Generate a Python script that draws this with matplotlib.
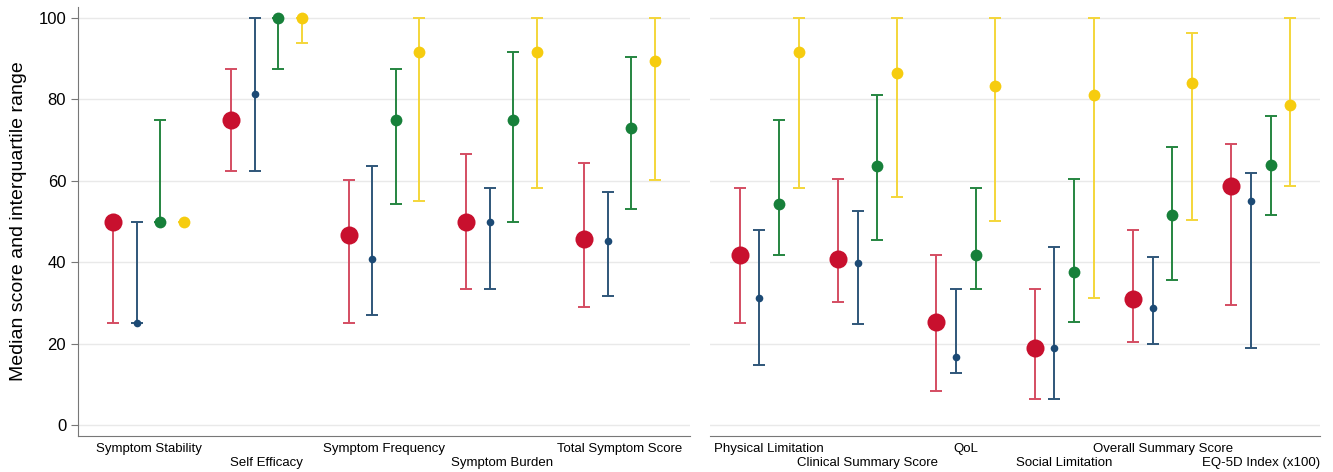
import matplotlib.pyplot as plt
import numpy as np

plt.rcParams["font.family"] = ["Liberation Sans", "DejaVu Sans"]

# ── data: median, lower quartile, upper quartile per group (4 groups) ──
left_labels = ["Symptom Stability", "Self Efficacy", "Symptom Frequency",
               "Symptom Burden", "Total Symptom Score"]
right_labels = ["Physical Limitation", "Clinical Summary Score", "QoL",
                "Social Limitation", "Overall Summary Score", "EQ-5D Index (x100)"]

left_med = {
    "red":    [50.0, 75.0, 46.8, 50.0, 45.8],
    "blue":   [25.0, 81.25, 40.7, 50.0, 45.3],
    "green":  [50.0, 100.0, 75.0, 75.0, 72.9],
    "yellow": [50.0, 100.0, 91.6, 91.6, 89.5],
}
left_lo = {
    "red":    [25.0, 62.5, 25.0, 33.3, 29.1],
    "blue":   [25.0, 62.5, 27.0, 33.3, 31.7],
    "green":  [50.0, 87.5, 54.2, 50.0, 53.1],
    "yellow": [50.0, 93.75, 55.1, 58.2, 60.3],
}
left_hi = {
    "red":    [50.0, 87.5, 60.3, 66.6, 64.4],
    "blue":   [50.0, 100.0, 63.6, 58.2, 57.2],
    "green":  [75.0, 100.0, 87.5, 91.6, 90.4],
    "yellow": [50.0, 100.0, 100.0, 100.0, 100.0],
}

right_med = {
    "red":    [41.7, 40.7, 25.2, 18.9, 30.9, 58.8],
    "blue":   [31.3, 39.8, 16.7, 18.9, 28.8, 55.1],
    "green":  [54.2, 63.6, 41.7, 37.6, 51.6, 64.0],
    "yellow": [91.6, 86.5, 83.3, 81.2, 84.1, 78.7],
}
right_lo = {
    "red":    [25.0, 30.2, 8.4, 6.4, 20.5, 29.4],
    "blue":   [14.7, 24.8, 12.7, 6.4, 20.0, 19.0],
    "green":  [41.7, 45.4, 33.3, 25.2, 35.6, 51.6],
    "yellow": [58.3, 56.0, 50.1, 31.3, 50.3, 58.8],
}
right_hi = {
    "red":    [58.3, 60.4, 41.7, 33.3, 48.0, 69.0],
    "blue":   [48.0, 52.5, 33.3, 43.8, 41.3, 62.0],
    "green":  [75.0, 81.2, 58.3, 60.4, 68.3, 76.0],
    "yellow": [100.0, 100.0, 100.0, 100.0, 96.2, 100.0],
}

series = ["red", "blue", "green", "yellow"]
marker_col = {"red": "#c8102e", "blue": "#1c4a75", "green": "#17803a", "yellow": "#f6cc0f"}
line_col = {"red": "#d44d62", "blue": "#2f5679", "green": "#258540", "yellow": "#f4d63a"}
msize = {"red": 13, "blue": 5.5, "green": 8.5, "yellow": 8.5}


def draw_panel(ax, labels, med, lo, hi, xlim):
    n = len(labels)
    for s_i, s in enumerate(series):
        x = np.arange(n) * 5 + s_i
        m = np.array(med[s])
        yerr = np.vstack([m - np.array(lo[s]), np.array(hi[s]) - m])
        ax.errorbar(x, m, yerr=yerr, fmt="none", ecolor=line_col[s],
                    elinewidth=1.4, capsize=4, capthick=1.4, zorder=2)
        ax.plot(x, m, "o", color=marker_col[s], markersize=msize[s],
                markeredgewidth=0, zorder=3)
    # labels staggered on two rows: even groups on major ticks, odd on minor
    centers = np.arange(n) * 5 + 1.5
    ax.set_xticks(centers[0::2])
    ax.set_xticklabels(labels[0::2], fontsize=9.5)
    ax.set_xticks(centers[1::2], minor=True)
    ax.set_xticklabels(labels[1::2], minor=True, fontsize=9.5)
    ax.tick_params(axis="x", which="major", length=0, pad=5)
    ax.tick_params(axis="x", which="minor", length=0, pad=15)
    ax.set_xlim(*xlim)
    ax.set_ylim(-2.7, 102.7)
    ax.set_yticks(range(0, 101, 20))
    ax.grid(True, axis="y", which="major", color="#e9e9e9", linewidth=1.0)
    ax.set_axisbelow(True)
    for side in ["top", "right"]:
        ax.spines[side].set_visible(False)
    ax.spines["bottom"].set_color("#777777")
    ax.spines["left"].set_color("#777777")


fig = plt.figure(figsize=(13.33, 4.72), dpi=100)
W, H = 1333, 472
ax1 = fig.add_axes([78 / W, 36 / H, (690 - 78) / W, (436 - 7) / H])
ax2 = fig.add_axes([710 / W, 36 / H, (1320 - 710) / W, (436 - 7) / H])

draw_panel(ax1, left_labels, left_med, left_lo, left_hi, (-1.5, 24.5))
draw_panel(ax2, right_labels, right_med, right_lo, right_hi, (-1.5, 29.5))

ax1.tick_params(axis="y", labelsize=12, length=5, color="#777777")
ax1.set_ylabel("Median score and interquartile range", fontsize=14, labelpad=8)

ax2.spines["left"].set_visible(False)
ax2.tick_params(axis="y", left=False, labelleft=False)

fig.savefig("out.png", dpi=100)
